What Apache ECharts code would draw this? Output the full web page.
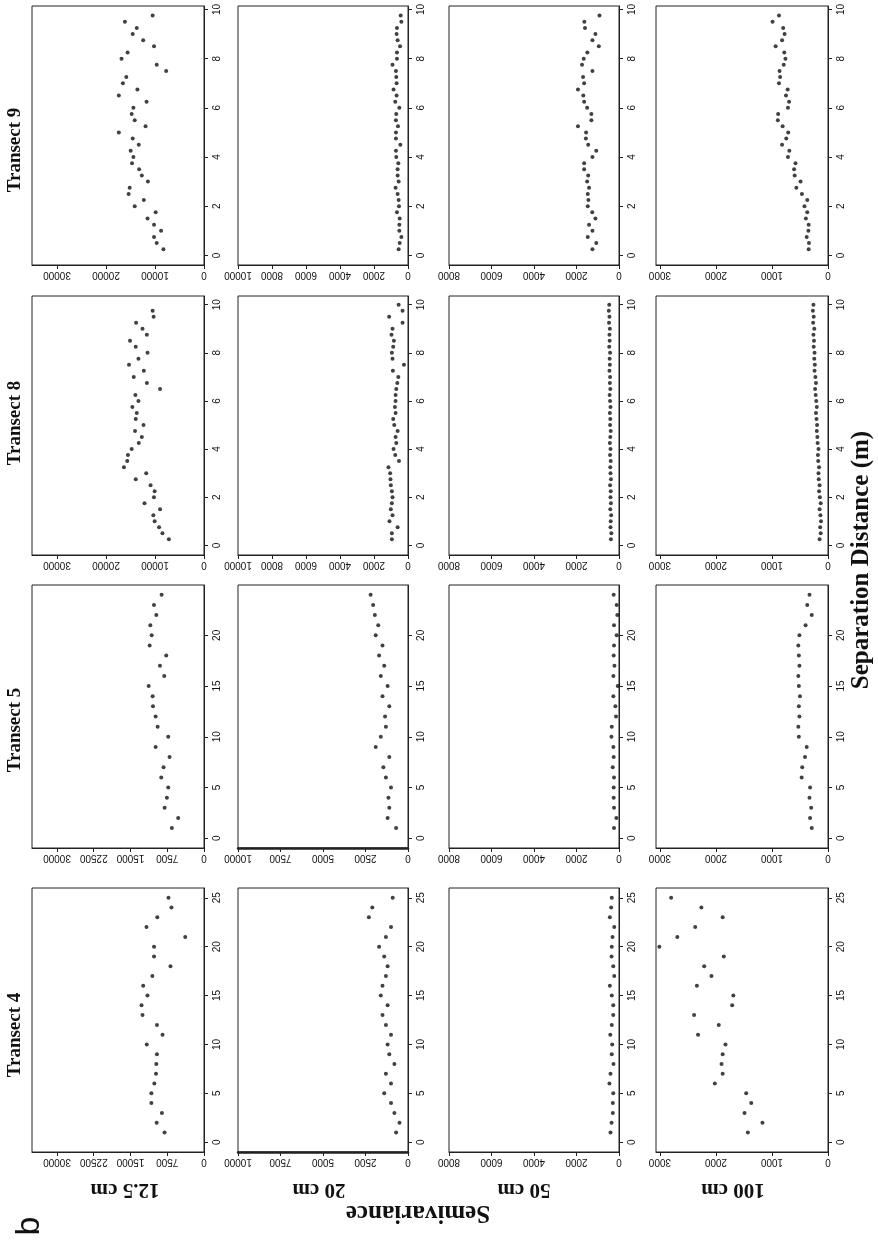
<!DOCTYPE html>
<html>
<head>
<meta charset="utf-8">
<script src="https://cdn.jsdelivr.net/npm/echarts@6/dist/echarts.min.js"></script>
<style>
html, body { margin: 0; padding: 0; background: #fff; }
#main { width: 878px; height: 1241px; }
</style>
</head>
<body>
<div id="main"></div>
<script>
'use strict'
// semivariogram panels, whole figure turned 90deg (distance runs up, semivariance runs left)

var depths = ['12.5 cm', '20 cm', '50 cm', '100 cm'];
var transects = ['Transect 9', 'Transect 8', 'Transect 5', 'Transect 4'];

// separation distances (m)
var lagT9 = [0.25, 0.5, 0.75, 1, 1.25, 1.5, 1.75, 2, 2.25, 2.5, 2.75, 3, 3.25, 3.5, 3.75, 4, 4.25, 4.5, 4.75, 5,
    5.25, 5.5, 5.75, 6, 6.25, 6.5, 6.75, 7, 7.25, 7.5, 7.75, 8, 8.25, 8.5, 8.75, 9, 9.25, 9.5, 9.75];
var lagT8 = [0.25, 0.5, 0.75, 1, 1.25, 1.5, 1.75, 2, 2.25, 2.5, 2.75, 3, 3.25, 3.5, 3.75, 4, 4.25, 4.5, 4.75, 5,
    5.25, 5.5, 5.75, 6, 6.25, 6.5, 6.75, 7, 7.25, 7.5, 7.75, 8, 8.25, 8.5, 8.75, 9, 9.25, 9.5, 9.75, 10];
var lagT5 = [1, 2, 3, 4, 5, 6, 7, 8, 9, 10, 11, 12, 13, 14, 15, 16, 17, 18, 19, 20, 21, 22, 23, 24];
var lagT4 = [1, 2, 3, 4, 5, 6, 7, 8, 9, 10, 11, 12, 13, 14, 15, 16, 17, 18, 19, 20, 21, 22, 23, 24, 25];

// semivariance values
var t9_125 = [8280, 9650, 10200, 8760, 10200, 11520, 9860, 14140, 12280, 15380, 15170, 11450, 12690, 13240, 14690, 14410, 14970, 13310, 14550, 17380,
    11930, 14140, 14760, 14410, 11720, 17380, 13590, 16550, 15860, 7720, 9650, 16830, 15590, 10200, 12410, 14550, 13720, 16140, 10480];
var t9_20 = [550, 490, 390, 510, 510, 490, 650, 530, 550, 610, 730, 550, 610, 610, 570, 690, 710, 450, 710, 710,
    590, 710, 690, 510, 750, 670, 850, 670, 690, 710, 910, 650, 650, 470, 610, 670, 650, 390, 430];
var t9_50 = [1250, 1070, 1470, 1250, 1410, 1110, 1260, 1470, 1440, 1470, 1410, 1500, 1450, 1640, 1640, 1250, 1070, 1450, 1560, 1550,
    1930, 1300, 1300, 1500, 1640, 1680, 1930, 1640, 1690, 1250, 1740, 1660, 1490, 950, 1250, 1110, 1600, 1630, 920];
var t9_100 = [345, 340, 380, 350, 345, 395, 370, 420, 370, 465, 565, 490, 595, 605, 580, 715, 690, 820, 745, 710,
    810, 895, 890, 715, 695, 750, 720, 875, 855, 865, 790, 760, 780, 935, 820, 775, 800, 990, 875];

var t8_125 = [7170, 8480, 9170, 10070, 10340, 8970, 12140, 10210, 10070, 10900, 13930, 11790, 16340, 15660, 15520, 14760, 13310, 12690, 14070, 12340,
    13930, 13720, 14620, 13380, 14000, 8970, 11660, 14340, 12280, 15310, 13380, 11520, 13930, 15100, 11660, 12550, 13860, 10280, 10480];
var t8_20 = [950, 950, 610, 1090, 910, 1010, 950, 910, 950, 1010, 1030, 1050, 1150, 530, 750, 850, 690, 730, 610, 810,
    870, 730, 770, 730, 730, 690, 630, 570, 890, 240, 910, 950, 870, 830, 970, 910, 320, 1110, 320, 550];
var t8_50 = [380, 360, 400, 390, 370, 410, 380, 400, 390, 420, 380, 400, 410, 390, 420, 400, 430, 410, 390, 420,
    410, 430, 400, 420, 440, 410, 430, 420, 450, 430, 440, 420, 460, 440, 450, 430, 470, 450, 480, 460];
var t8_100 = [150, 130, 140, 125, 135, 150, 130, 145, 160, 150, 165, 170, 160, 175, 180, 170, 185, 190, 200, 195,
    205, 215, 200, 210, 220, 230, 215, 225, 240, 235, 245, 240, 255, 250, 260, 245, 265, 255, 270, 260];

var t5_125 = [6560, 5270, 8040, 7570, 7300, 8720, 8250, 7030, 9870, 7300, 9460, 9870, 10410, 10480, 11290, 8110, 8990, 7710, 11090, 10680,
    10950, 9730, 10210, 8650];
var t5_20 = [700, 1200, 1100, 1150, 1000, 1300, 1450, 1100, 1900, 1600, 1300, 1350, 1100, 1500, 1200, 1600, 1400, 1700, 1500, 1900,
    1750, 1950, 2050, 2200];
var t5_50 = [235, 125, 235, 250, 250, 235, 295, 250, 265, 355, 340, 140, 170, 265, 60, 265, 215, 250, 235, 110,
    235, 80, 110, 250];
var t5_100 = [290, 320, 300, 330, 320, 470, 460, 410, 380, 520, 530, 510, 520, 500, 520, 530, 510, 520, 530, 510,
    400, 290, 370, 330];

var t4_125 = [8050, 9660, 8590, 10740, 10740, 10130, 9800, 9730, 9600, 11680, 8460, 9600, 12550, 12750, 11540, 12410, 10540, 6840, 10200, 10200,
    3830, 11740, 9530, 6640, 7250];
var t4_20 = [700, 500, 800, 1000, 1400, 1000, 1300, 800, 1100, 1200, 1000, 1300, 1500, 1200, 1600, 1500, 1300, 1200, 1400, 1700,
    1300, 1000, 2300, 2100, 900];
var t4_50 = [400, 350, 290, 290, 270, 450, 400, 260, 340, 320, 410, 340, 270, 270, 340, 430, 225, 270, 350, 340,
    305, 225, 430, 370, 340];
var t4_100 = [1430, 1170, 1490, 1370, 1460, 2020, 1880, 1900, 1880, 1830, 2320, 1950, 2390, 1710, 1690, 2340, 2080, 2210, 1860, 3010,
    2690, 2370, 1880, 2260, 2800];

// tick labels
var svTicks125a = [0, 10000, 20000, 30000];
var svTicks125b = [0, 7500, 15000, 22500, 30000];
var svTicks20a = [0, 2000, 4000, 6000, 8000, 10000];
var svTicks20b = [0, 2500, 5000, 7500, 10000];
var svTicks50 = [0, 2000, 4000, 6000, 8000];
var svTicks100 = [0, 1000, 2000, 3000];
var lagTicks10 = [0, 2, 4, 6, 8, 10];
var lagTicks20 = [0, 5, 10, 15, 20];
var lagTicks25 = [0, 5, 10, 15, 20, 25];

// layout (pixel boxes of the panels)
var colBox = [[32, 204], [238, 408], [449, 619], [656, 828]];
var rowBox = [[6, 265], [296, 555], [585, 848], [888, 1152]];
var lagRange = [[-0.39, 10.14], [-0.4, 10.36], [-0.96, 24.96], [-1, 26]];
var lagTicks = [lagTicks10, lagTicks10, lagTicks20, lagTicks25];
var svMax = [35100, 10000, 8000, 3070];

var panels = [
    [lagT9, t9_125, svTicks125a], [lagT9, t9_20, svTicks20a], [lagT9, t9_50, svTicks50], [lagT9, t9_100, svTicks100],
    [lagT8, t8_125, svTicks125a], [lagT8, t8_20, svTicks20a], [lagT8, t8_50, svTicks50], [lagT8, t8_100, svTicks100],
    [lagT5, t5_125, svTicks125b], [lagT5, t5_20, svTicks20b], [lagT5, t5_50, svTicks50], [lagT5, t5_100, svTicks100],
    [lagT4, t4_125, svTicks125b], [lagT4, t4_20, svTicks20b], [lagT4, t4_50, svTicks50], [lagT4, t4_100, svTicks100]
];

var grids = [], xAxes = [], yAxes = [], series = [];
var labelFont = 'Liberation Sans';
var fmt = function (v) { return String(v); };

panels.forEach(function (p, i) {
    var r = Math.floor(i / 4), c = i % 4;
    grids.push({
        left: colBox[c][0], top: rowBox[r][0],
        width: colBox[c][1] - colBox[c][0], height: rowBox[r][1] - rowBox[r][0],
        show: true, borderColor: '#222', borderWidth: 1, backgroundColor: 'transparent'
    });
    xAxes.push({
        type: 'value', gridIndex: i, inverse: true, position: 'bottom',
        min: 0, max: svMax[c],
        splitLine: { show: false },
        axisLine: { show: true, onZero: false, lineStyle: { color: '#222', width: (c === 1 && r >= 2) ? 2.5 : 1 } },
        axisTick: { show: true, length: 4, customValues: p[2], lineStyle: { color: '#222' } },
        axisLabel: {
            customValues: p[2], rotate: 180, margin: 5, formatter: fmt,
            fontFamily: labelFont, fontSize: 10, color: '#111'
        }
    });
    yAxes.push({
        type: 'value', gridIndex: i, position: 'right',
        min: lagRange[r][0], max: lagRange[r][1],
        splitLine: { show: false },
        axisLine: { show: true, onZero: false, lineStyle: { color: '#222' } },
        axisTick: { show: true, length: 4, customValues: lagTicks[r], lineStyle: { color: '#222' } },
        axisLabel: {
            customValues: lagTicks[r], rotate: 90, margin: 8, formatter: fmt,
            fontFamily: labelFont, fontSize: 10, color: '#111'
        }
    });
    series.push({
        type: 'scatter', xAxisIndex: i, yAxisIndex: i,
        symbol: 'circle', symbolSize: 4,
        itemStyle: { color: '#111' },
        silent: true,
        data: p[1].map(function (v, k) { return [v, p[0][k]]; })
    });
});

var graphics = [];
var titleY = [150, 423, 730, 1035];
transects.forEach(function (t, r) {
    graphics.push({
        type: 'text', x: 15, y: titleY[r], rotation: Math.PI / 2,
        style: { text: t, font: 'bold 19px "Liberation Serif"', fill: '#111', align: 'center', verticalAlign: 'middle', textAlign: 'center', textVerticalAlign: 'middle' }
    });
});
var depthX = [125, 319, 524, 733];
depths.forEach(function (d, c) {
    graphics.push({
        type: 'text', x: depthX[c], y: 1189, rotation: Math.PI,
        style: { text: d, font: 'bold 21px "Liberation Serif"', fill: '#111', align: 'center', verticalAlign: 'middle', textAlign: 'center', textVerticalAlign: 'middle' }
    });
});
graphics.push({
    type: 'text', x: 418, y: 1212, rotation: Math.PI,
    style: { text: 'Semivariance', font: 'bold 25px "Liberation Serif"', fill: '#111', align: 'center', verticalAlign: 'middle', textAlign: 'center', textVerticalAlign: 'middle' }
});
graphics.push({
    type: 'text', x: 862, y: 560, rotation: Math.PI / 2,
    style: { text: 'Separation Distance (m)', font: 'bold 25px "Liberation Serif"', fill: '#111', align: 'center', verticalAlign: 'middle', textAlign: 'center', textVerticalAlign: 'middle' }
});
graphics.push({
    type: 'text', x: 30, y: 1226, rotation: Math.PI / 2,
    style: { text: 'b', font: '34px "Liberation Sans"', fill: '#111', align: 'center', verticalAlign: 'middle', textAlign: 'center', textVerticalAlign: 'middle' }
});

var option = {
    animation: false,
    backgroundColor: '#fff',
    grid: grids,
    xAxis: xAxes,
    yAxis: yAxes,
    series: series,
    graphic: graphics
};

var myChart = echarts.init(document.getElementById('main'));
myChart.setOption(option);
</script>
</body>
</html>
